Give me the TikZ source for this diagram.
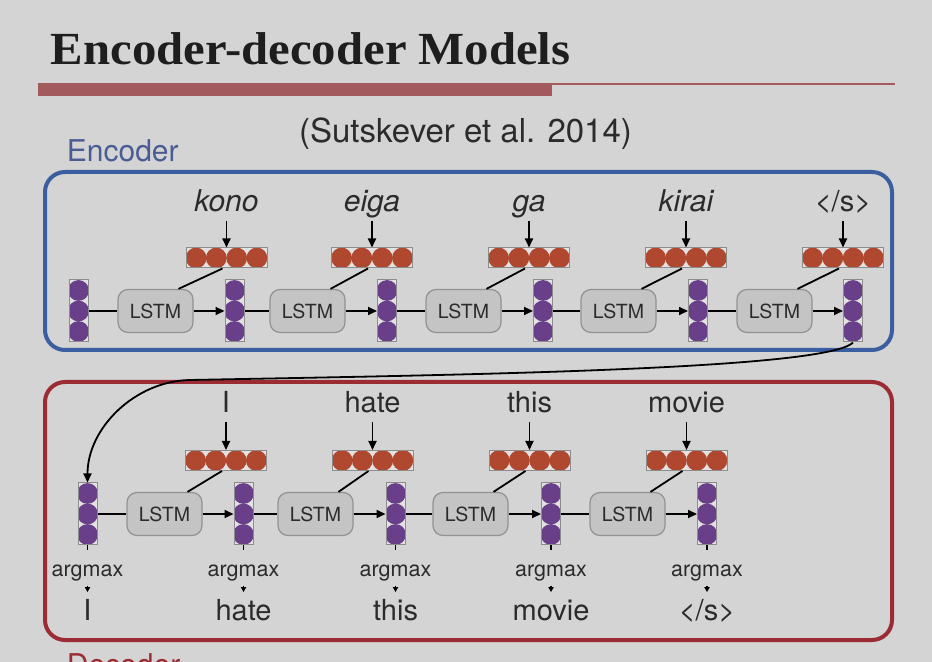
\documentclass[tikz,border=0pt]{standalone}
\usepackage{fontspec}
\setmainfont{Liberation Serif}
\setsansfont{TeX Gyre Heros}
\usepackage{tikz}
\usetikzlibrary{calc}
\usetikzlibrary{arrows.meta}
\definecolor{slidebg}{HTML}{D4D4D4}
\definecolor{inkgray}{HTML}{2B2B2B}
\definecolor{titleink}{HTML}{1E1E1E}
\definecolor{barred}{HTML}{A35A5C}
\definecolor{encblue}{HTML}{3A5E9F}
\definecolor{enctext}{HTML}{4A5C94}
\definecolor{decred}{HTML}{9C2C34}
\definecolor{embred}{HTML}{B0472F}
\definecolor{vecpurple}{HTML}{6A3F89}
\definecolor{cellfill}{HTML}{E2E2E2}
\definecolor{cellline}{HTML}{8C8C8C}
\definecolor{lstmfill}{HTML}{C4C4C4}
\definecolor{lstmline}{HTML}{929292}
\newcommand{\sz}[1]{\fontsize{#1}{#1}\selectfont}

\begin{document}
\begin{tikzpicture}[x=0.5pt,y=-0.5pt,
    >={Triangle[length=4.5pt,width=4pt]},
    line width=0.9pt,
    every node/.style={text=inkgray},
    vecbox/.style={draw=cellline,fill=cellfill,line width=0.5pt,inner sep=0pt,
      minimum width=9.5pt,minimum height=31pt,
      path picture={
        \fill[vecpurple] ([yshift=10.25pt]path picture bounding box.center) circle (5.2pt);
        \fill[vecpurple] (path picture bounding box.center) circle (5.2pt);
        \fill[vecpurple] ([yshift=-10.25pt]path picture bounding box.center) circle (5.2pt);}},
    emb/.style={draw=cellline,fill=cellfill,line width=0.5pt,inner sep=0pt,
      minimum width=40.5pt,minimum height=10pt,
      path picture={
        \fill[embred] ([xshift=-15.2pt]path picture bounding box.center) circle (5.2pt);
        \fill[embred] ([xshift=-5.1pt]path picture bounding box.center) circle (5.2pt);
        \fill[embred] ([xshift=5.1pt]path picture bounding box.center) circle (5.2pt);
        \fill[embred] ([xshift=15.2pt]path picture bounding box.center) circle (5.2pt);}},
    lstm/.style={draw=lstmline,fill=lstmfill,rounded corners=5pt,line width=0.6pt,
      minimum width=37.5pt,minimum height=21.5pt,inner sep=0pt,font=\sffamily\sz{9.75}},
    word/.style={font=\sffamily\sz{14.5},inner sep=1pt,text height=10.5pt,text depth=3pt,anchor=base},
    encword/.style={word,font=\sffamily\itshape\sz{15}},
    argm/.style={font=\sffamily\sz{10.75},inner sep=0pt,anchor=base},
    smallarr/.style={-{Triangle[length=2.5pt,width=2.6pt]},shorten <=2pt,shorten >=2pt},
    boxlab/.style={font=\sffamily\sz{15},inner sep=0pt,anchor=base west},
    frame/.style={line width=2pt,rounded corners=10pt,minimum width=423.5pt,inner sep=0pt},
    encframe/.style={frame,draw=encblue,minimum height=89pt},
    decframe/.style={frame,draw=decred,minimum height=129pt}]
  \useasboundingbox (0,0) rectangle (932,662);
  \clip (0,0) rectangle (932,662);
  \fill[slidebg] (0,0) rectangle (932,662);

  % title and rule
  \node[font=\bfseries\sz{23},text=titleink,inner sep=0pt,anchor=base west,xscale=1.06] (title) at (50,65) {Encoder-decoder Models};
  \fill[barred] (38,83) rectangle (552,96);
  \fill[barred] (552,83) rectangle (895,85);
  \node[font=\sffamily\sz{16.5},inner sep=0pt,anchor=base] (cite) at (465.5,143) {(Sutskever et al. 2014)};

  % frames
  \node[encframe] (encbox) at (468.5,261) {};
  \node[decframe] (decbox) at (468.5,511) {};
  \node[boxlab,text=enctext] (enclab) at (66,162) {Encoder};
  \node[boxlab,text=decred] (declab) at (66,675) {Decoder};

  % encoder
  \node[vecbox] (ev0) at (78.5,311) {};
  \node[vecbox] (ev1) at (234.5,311) {};
  \node[vecbox] (ev2) at (387,311) {};
  \node[vecbox] (ev3) at (543,311) {};
  \node[vecbox] (ev4) at (698,311) {};
  \node[vecbox] (ev5) at (853,311) {};
  \node[lstm] (el1) at (155.5,311) {LSTM};
  \node[lstm] (el2) at (307.5,311) {LSTM};
  \node[lstm] (el3) at (463.5,311) {LSTM};
  \node[lstm] (el4) at (618.5,311) {LSTM};
  \node[lstm] (el5) at (774.5,311) {LSTM};
  \node[emb] (ee1) at (226.5,258) {};
  \node[emb] (ee2) at (372,258) {};
  \node[emb] (ee3) at (529,258) {};
  \node[emb] (ee4) at (686,258) {};
  \node[emb] (ee5) at (843,258) {};
  \node[encword] (ew1) at (226.5,212) {kono};
  \node[encword] (ew2) at (372,212) {eiga};
  \node[encword] (ew3) at (529,212) {ga};
  \node[encword] (ew4) at (686,212) {kirai};
  \node[word] (ew5) at (843,212) {</s>};

  \draw (ev0) -- (el1);
  \draw (ev1) -- (el2);
  \draw (ev2) -- (el3);
  \draw (ev3) -- (el4);
  \draw (ev4) -- (el5);
  \path[->] (el1) edge (ev1);
  \path[->] (el2) edge (ev2);
  \path[->] (el3) edge (ev3);
  \path[->] (el4) edge (ev4);
  \path[->] (el5) edge (ev5);
  \draw ([xshift=11.5pt]el1.north) -- ([xshift=-2pt]ee1.south);
  \draw ([xshift=11.5pt]el2.north) -- ([xshift=-2pt]ee2.south);
  \draw ([xshift=11.5pt]el3.north) -- ([xshift=-2pt]ee3.south);
  \draw ([xshift=11.5pt]el4.north) -- ([xshift=-2pt]ee4.south);
  \draw ([xshift=11.5pt]el5.north) -- ([xshift=-2pt]ee5.south);
  \path[->] (ew1) edge (ee1);
  \path[->] (ew2) edge (ee2);
  \path[->] (ew3) edge (ee3);
  \path[->] (ew4) edge (ee4);
  \path[->] (ew5) edge (ee5);

  % decoder
  \node[vecbox] (dv1) at (87.5,514) {};
  \node[vecbox] (dv2) at (243.5,514) {};
  \node[vecbox] (dv3) at (395.5,514) {};
  \node[vecbox] (dv4) at (551,514) {};
  \node[vecbox] (dv5) at (707,514) {};
  \node[lstm] (dl1) at (164.5,514) {LSTM};
  \node[lstm] (dl2) at (315.5,514) {LSTM};
  \node[lstm] (dl3) at (470.5,514) {LSTM};
  \node[lstm] (dl4) at (627.5,514) {LSTM};
  \node[emb] (de1) at (226,460.5) {};
  \node[emb] (de2) at (372.5,460.5) {};
  \node[emb] (de3) at (529.5,460.5) {};
  \node[emb] (de4) at (686.5,460.5) {};
  \node[word] (dw1) at (226,413) {I};
  \node[word] (dw2) at (372.5,413) {hate};
  \node[word] (dw3) at (529.5,413) {this};
  \node[word] (dw4) at (686.5,413) {movie};
  \node[argm] (am1) at (87.5,576) {argmax};
  \node[argm] (am2) at (243.5,576) {argmax};
  \node[argm] (am3) at (395.5,576) {argmax};
  \node[argm] (am4) at (551,576) {argmax};
  \node[argm] (am5) at (707,576) {argmax};
  \node[word] (out1) at (87.5,620) {I};
  \node[word] (out2) at (243.5,620) {hate};
  \node[word] (out3) at (395.5,620) {this};
  \node[word] (out4) at (551,620) {movie};
  \node[word] (out5) at (707,620) {</s>};

  \draw (dv1) -- (dl1);
  \draw (dv2) -- (dl2);
  \draw (dv3) -- (dl3);
  \draw (dv4) -- (dl4);
  \path[->] (dl1) edge (dv2);
  \path[->] (dl2) edge (dv3);
  \path[->] (dl3) edge (dv4);
  \path[->] (dl4) edge (dv5);
  \draw ([xshift=11.5pt]dl1.north) -- ([xshift=-2pt]de1.south);
  \draw ([xshift=11.5pt]dl2.north) -- ([xshift=-2pt]de2.south);
  \draw ([xshift=11.5pt]dl3.north) -- ([xshift=-2pt]de3.south);
  \draw ([xshift=11.5pt]dl4.north) -- ([xshift=-2pt]de4.south);
  \path[->] (dw1) edge (de1);
  \path[->] (dw2) edge (de2);
  \path[->] (dw3) edge (de3);
  \path[->] (dw4) edge (de4);
  \draw[shorten >=7pt] (dv1) -- (am1);
  \draw[shorten >=7pt] (dv2) -- (am2);
  \draw[shorten >=7pt] (dv3) -- (am3);
  \draw[shorten >=7pt] (dv4) -- (am4);
  \draw[shorten >=7pt] (dv5) -- (am5);
  \path[smallarr] (am1) edge (out1);
  \path[smallarr] (am2) edge (out2);
  \path[smallarr] (am3) edge (out3);
  \path[smallarr] (am4) edge (out4);
  \path[smallarr] (am5) edge (out5);

  % hand-over from encoder to decoder
  \coordinate (bend) at (190,380);
  \draw[->] (ev5.south) .. controls (826,370) and (450,375) .. (bend) .. controls (135,381) and (87.5,428) .. (dv1.north);
\end{tikzpicture}
\end{document}
